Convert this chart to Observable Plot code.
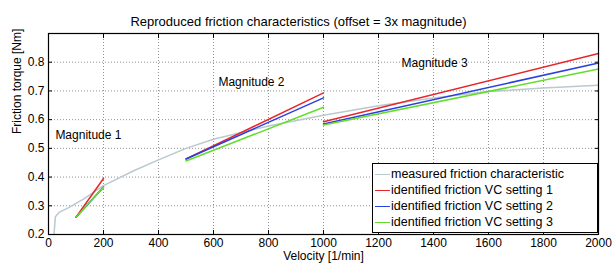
<!DOCTYPE html>
<html><head><meta charset="utf-8">
<script src="https://cdn.jsdelivr.net/npm/d3@7"></script>
<script src="https://cdn.jsdelivr.net/npm/@observablehq/plot@0.6"></script>
<style>
body{margin:0;background:#fff;font-family:"Liberation Sans",Arial,sans-serif;}
#wrap{position:relative;width:612px;height:264px;}
#legend{position:absolute;left:372px;top:163px;width:226px;height:70px;border:1px solid #000;background:#fff;box-sizing:border-box;font-size:12.5px;color:#000;}
#legend .row{position:absolute;left:0;height:16px;line-height:16px;white-space:nowrap;}
#legend .sw{position:absolute;left:2px;top:8px;width:15px;height:0;border-top:1.5px solid;}
#legend .tx{position:absolute;left:18px;top:0;}
</style></head>
<body><div id="wrap"><div id="legend"></div></div>
<script>
const title = "Reproduced friction characteristics (offset = 3x magnitude)";
const xLabel = "Velocity [1/min]";
const yLabel = "Friction torque [Nm]";
const xTicks = [0,200,400,600,800,1000,1200,1400,1600,1800,2000];
const yTicks = [0.2,0.3,0.4,0.5,0.6,0.7,0.8];
const seriesNames = ["measured friction characteristic","identified friction VC setting 1","identified friction VC setting 2","identified friction VC setting 3"];
const seriesColors = ["#b9c9cd","#e8262a","#2b3fe0","#62de2a"];

// measured curve
const measV = [20,25,40,70,130,200,310,400,500,600,800,1000,1200,1400,1600,1800,2000];
const measT = [0.2,0.262,0.278,0.292,0.325,0.37,0.422,0.46,0.5,0.532,0.578,0.615,0.648,0.675,0.698,0.71,0.72];

// identified segments
const segMag = [1,1,2,2,3,3];
const segV   = [100,200,500,1000,1000,2000];
const set1   = [0.26,0.395,0.463,0.693,0.593,0.83];
const set2   = [0.26,0.365,0.463,0.676,0.585,0.797];
const set3   = [0.26,0.365,0.456,0.643,0.581,0.776];

const magLabels = ["Magnitude 1","Magnitude 2","Magnitude 3"];
const magLabelV = [25,618,1284];
const magLabelT = [0.545,0.73,0.797];

const meas = measV.map((v,i)=>({v,t:measT[i]}));
const sets = [set1,set2,set3];
const segs = [];
sets.forEach((s,k)=>segV.forEach((v,i)=>segs.push({v,t:s[i],series:k+1,mag:segMag[i]})));
const mags = magLabels.map((l,i)=>({l,v:magLabelV[i],t:magLabelT[i]}));

const font = "Liberation Sans, Arial, sans-serif";
const plot = Plot.plot({
  width:612,height:264,
  marginTop:33,marginLeft:48,marginRight:14,marginBottom:30,
  style:{fontFamily:font,fontSize:"12px",color:"#000",background:"#fff"},
  x:{domain:[0,2000],ticks:xTicks},
  y:{domain:[0.2,0.9],ticks:yTicks},
  marks:[
    Plot.gridX(xTicks,{stroke:"#777",strokeOpacity:0.8,strokeDasharray:"1,2"}),
    Plot.gridY(yTicks,{stroke:"#777",strokeOpacity:0.8,strokeDasharray:"1,2"}),
    Plot.axisX(xTicks,{tickSize:-4,tickPadding:8,label:null,fontSize:12,tickFormat:d3.format("d")}),
    Plot.axisX(xTicks,{anchor:"top",tickSize:-4,tickFormat:()=>"",label:null}),
    Plot.axisY(yTicks,{tickSize:-4,tickPadding:8,label:null,fontSize:12,tickFormat:d3.format(".1f")}),
    Plot.axisY(yTicks,{anchor:"right",tickSize:-4,tickFormat:()=>"",label:null}),
    Plot.line(meas,{x:"v",y:"t",stroke:seriesColors[0],strokeWidth:1.5}),
    Plot.line(segs,{x:"v",y:"t",z:d=>d.series+"-"+d.mag,stroke:d=>seriesColors[d.series],strokeWidth:1.5}),
    Plot.text(mags,{x:"v",y:"t",text:"l",textAnchor:"start",fontSize:12}),
    Plot.frame({stroke:"#000",strokeWidth:1.2}),
    Plot.text([title],{frameAnchor:"top",dy:-17,dx:-25,fontSize:13}),
    Plot.text([xLabel],{frameAnchor:"bottom",dy:25,fontSize:12}),
    Plot.text([yLabel],{frameAnchor:"left",dx:-31,rotate:-90,fontSize:12})
  ]
});
document.getElementById("wrap").prepend(plot);

const lg = document.getElementById("legend");
seriesNames.forEach((n,i)=>{
  const r=document.createElement("div");r.className="row";r.style.top=(2+i*16)+"px";
  const s=document.createElement("div");s.className="sw";s.style.borderColor=seriesColors[i];
  const t=document.createElement("div");t.className="tx";t.textContent=n;
  r.append(s,t);lg.append(r);
});
</script></body></html>
